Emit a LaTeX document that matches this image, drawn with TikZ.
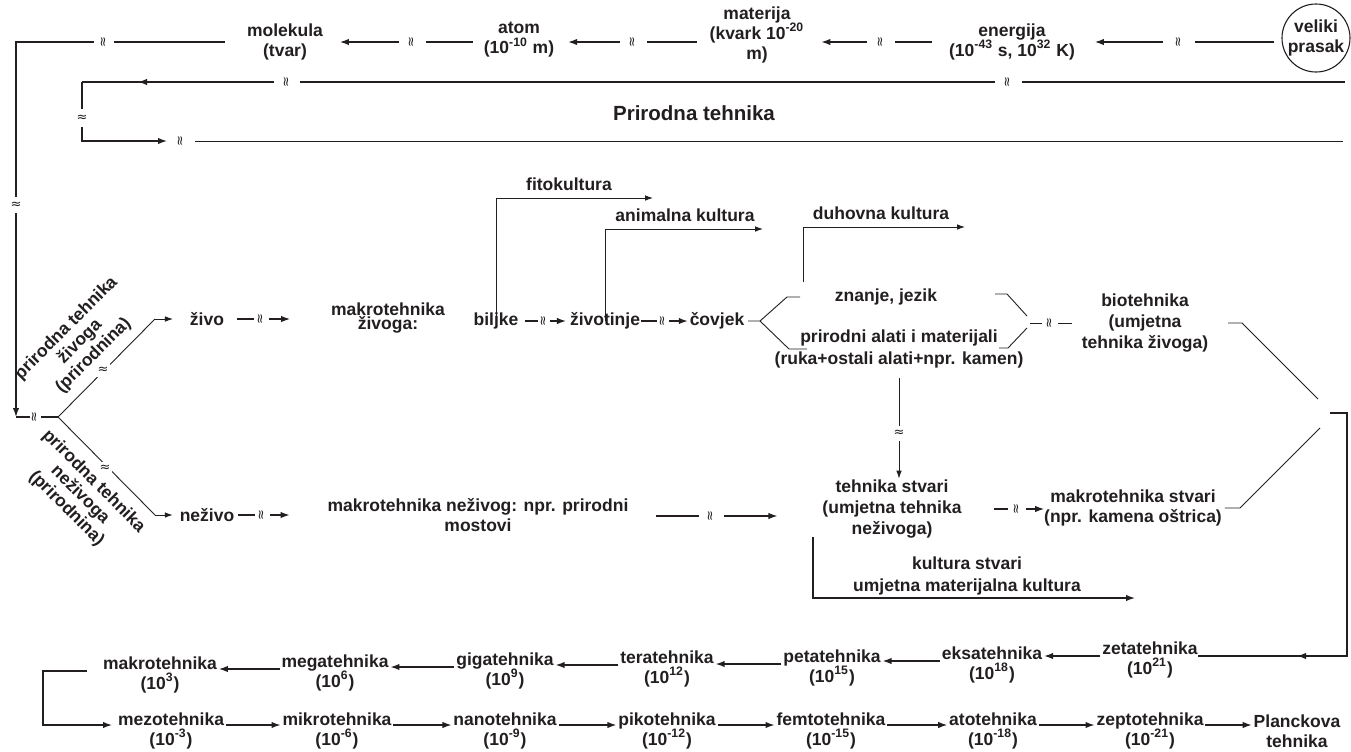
\documentclass[tikz,border=0pt]{standalone}
\usepackage{fontspec}
\setmainfont{Liberation Sans}
\newfontfamily\dvfam{DejaVu Sans}
\usetikzlibrary{arrows.meta,calc}
\definecolor{ink}{RGB}{35,31,32}
\newcommand\lbf{\fontsize{8.75pt}{10pt}\selectfont\bfseries}
\newcommand\lbfw{\fontsize{8.75pt}{10.6pt}\selectfont\bfseries}
\newcommand\lbft{\fontsize{8.75pt}{7pt}\selectfont\bfseries}
\newcommand\lbfr{\fontsize{8.75pt}{9.6pt}\selectfont\bfseries}
\newcommand\lbfb{\fontsize{8.75pt}{11pt}\selectfont\bfseries}
\newcommand\wvf{\dvfam\fontsize{6.5pt}{6.5pt}\selectfont}
\newcommand\prfont{\fontsize{10.25pt}{12pt}\selectfont\bfseries}
\begin{document}
\begin{tikzpicture}[x=0.5pt,y=-0.5pt,
  lbl/.style={font=\lbf, align=center, inner sep=0pt, outer sep=0pt, text=ink},
  cline/.style={draw=ink, line width=0.65pt},
  thn/.style={draw=ink, line width=0.45pt},
  arr/.style={cline, -{Latex[length=4.5pt,width=3.2pt]}},
  tarr/.style={thn, -{Latex[length=4pt,width=2.8pt]}},
  wv/.style={fill=white, inner sep=0pt, minimum width=4pt, minimum height=#1, font=\wvf, text=ink, rotate=90},
  wv/.default=13pt,
  wvv/.style={fill=white, inner sep=0pt, minimum width=4pt, minimum height=#1, font=\wvf, text=ink},
  wvv/.default=8pt,
  wvd/.style={fill=white, inner sep=0pt, minimum size=6.5pt, font=\wvf, text=ink}
]
\fill[white] (0,0) rectangle (1351,751);
\useasboundingbox (0,0) rectangle (1351,751);

\coordinate (r42) at (0,42);
\coordinate (r516) at (0,516);

% ---------- top row ----------
\node[lbl, draw=ink, line width=0.55pt, circle, minimum size=34pt] (prasak) at (1316,38) {veliki\\prasak};
\node[lbl] (energija) at (1012,42) {energija\\(10\textsuperscript{-43} s, 10\textsuperscript{32} K)};
\node[lbl] (materija) at (757,35) {materija\\(kvark 10\textsuperscript{-20}\\m)};
\node[lbl] (atom) at (519,40) {atom\\(10\textsuperscript{-10} m)};
\node[lbl] (molekula) at (285,42) {molekula\\(tvar)};

\draw[arr, shorten <=4pt, shorten >=10pt] ([yshift=-2pt]prasak.west) -- (energija.east);
\node[wv=16pt] at (1179,42) {≈};
\draw[arr, shorten <=8.5pt, shorten >=8.5pt] (energija.west) -- (materija.east |- r42);
\node[wv=14pt] at (881,42) {≈};
\draw[arr, shorten <=6.5pt, shorten >=7pt] (materija.west |- r42) -- (atom.east |- r42);
\node[wv=13.5pt] at (633,42) {≈};
\draw[arr, shorten <=5.5pt, shorten >=8.5pt] (atom.west |- r42) -- (molekula.east);
\node[wv=13.5pt] at (412,42) {≈};

\coordinate (L1) at (16,42);
\coordinate (L2) at (16,417);
\draw[arr, shorten <=11pt] (molekula.west) -- (L1) -- (L2);
\node[wv=10pt] at (104,42) {≈};
\node[wvv=8pt] at (16,205) {≈};

\coordinate (F0) at (58,417);
\draw[cline] (L2) -- (F0);
\node[wv=5.5pt] at (35,417) {≈};

% ---------- Prirodna tehnika band ----------
\coordinate (T0) at (1345,82);
\coordinate (T1) at (82,82);
\coordinate (T2) at (82,141);
\coordinate (Tm) at (138,82);
\coordinate (T3) at (167,141);
\coordinate (T4) at (195,141);
\coordinate (T5) at (1343,141);
\draw[cline] (T0) -- (T1);
\draw[arr] (T0) -- (Tm);
\draw[arr] (T1) -- (T2) -- (T3);
\draw[thn] (T4) -- (T5);
\node[wv=13pt] at (287,82) {≈};
\node[wv=13.5pt] at (1008,82) {≈};
\node[wvv=9pt] at (82,118) {≈};
\node[wvv=4pt, rotate=90] at (181,141) {≈};
\node[lbl, font=\prfont] (prirodna) at (694,113) {Prirodna tehnika};

% ---------- left fork ----------
\node[lbl] (zivo) at (207,319) {živo};
\node[lbl] (nezivo) at (207,515) {neživo};
\coordinate (U1) at (155,319);
\coordinate (D1) at (155,515);
\draw[thn] (F0) -- (U1);
\draw[tarr, shorten >=8.5pt] (U1) -- (zivo.west);
\draw[thn] (F0) -- (D1);
\draw[tarr, shorten >=3.5pt] (D1) -- (nezivo.west);
\node[wvd] at (103,370) {≈};
\node[wvd] at (105,468) {≈};

\node[lbl, font=\lbfr, rotate=45] (lblzivo) at (80,342) {prirodna tehnika\\živoga\\(prirodnina)};
\node[lbl, font=\lbfr, rotate=-45] (lblnezivo) at (80,495) {prirodna tehnika\\neživoga\\(prirodnina)};

% ---------- living branch ----------
\node[lbl, font=\lbft] (makrozivo) at (388,318) {makrotehnika\\živoga:};
\draw[arr, shorten <=6.5pt, shorten >=20.5pt] (zivo.east) -- (zivo.east -| makrozivo.west);
\node[wv=7.5pt] at (261,319) {≈};

\node[lbl] (biljke) at (496,321) {biljke};
\node[lbl] (zivotinje) at (605,321) {životinje};
\node[lbl] (covjek) at (717,321) {čovjek};
\draw[arr, shorten <=3.5pt, shorten >=2pt] (biljke.east) -- (zivotinje.west);
\node[wv=6pt] at (544,321) {≈};
\draw[arr, shorten <=0.5pt, shorten >=1pt] (zivotinje.east) -- (covjek.west);
\node[wv=6pt] at (663,321) {≈};

\node[lbl] (fito) at (569,184) {fitokultura};
\node[lbl] (animal) at (685,215) {animalna kultura};
\node[lbl] (duhovna) at (881,213) {duhovna kultura};
\coordinate (fitoE) at (653,198);
\coordinate (animE) at (763,229);
\coordinate (duhS) at (803,282);
\coordinate (duhE) at (965,227);
\draw[tarr, shorten <=-4pt] (biljke.north) |- (fitoE);
\draw[tarr, shorten <=-4pt] (zivotinje.north) |- (animE);
\draw[tarr] (duhS) |- (duhE);

\coordinate (F2) at (760,321);
\coordinate (Fa) at (787,297);
\coordinate (Fb) at (800,297);
\coordinate (Fc) at (789,349);
\coordinate (Fd) at (807,349);
\draw[thn, shorten <=2pt] (covjek.east) -- (F2) -- (Fa) -- (Fb);
\draw[thn] (F2) -- (Fc) -- (Fd);

\node[lbl] (znanje) at (886,297) {znanje, jezik};
\node[lbl, font=\lbfb] (prirodni) at (899,349) {prirodni alati i materijali\\(ruka+ostali alati+npr. kamen)};

\coordinate (Ga) at (995,294);
\coordinate (Gb) at (1007,294);
\coordinate (Gc) at (1027,316);
\coordinate (Gd) at (999,348);
\coordinate (Ge) at (1008,348);
\coordinate (Gf) at (1027,328);
\coordinate (Gm) at (1030,323);
\draw[thn] (Ga) -- (Gb) -- (Gc);
\draw[thn] (Gd) -- (Ge) -- (Gf);
\node[lbl, font=\lbfw] (bio) at (1145,323) {biotehnika\\(umjetna\\tehnika živoga)};
\draw[thn, shorten >=5pt] (Gm) -- (bio.west);
\node[wv=8pt] at (1050,323) {≈};

% ---------- non-living branch ----------
\node[lbl] (makroneziv) at (478,515) {makrotehnika neživog: npr. prirodni\\mostovi};
\draw[arr, shorten <=2pt, shorten >=19pt] (nezivo.east) -- (nezivo.east -| makroneziv.west);
\node[wv=7.5pt] at (262,515) {≈};

\node[lbl, font=\lbfw] (tstvari) at (892,509) {tehnika stvari\\(umjetna tehnika\\neživoga)};
\draw[tarr, shorten <=5pt, shorten >=0.5pt] (prirodni.south) -- (prirodni.south |- tstvari.north);
\node[wvv=7.5pt] at (899,433) {≈};

\draw[arr, shorten <=14pt, shorten >=22.5pt] (makroneziv.east |- r516) -- (tstvari.west |- r516);
\node[wv=12.5pt] at (711,516) {≈};

\node[lbl] (makrostvari) at (1133,508) {makrotehnika stvari\\(npr. kamena oštrica)};
\draw[arr, shorten <=16pt] (tstvari.east) -- (tstvari.east -| makrostvari.west);
\node[wv=9pt] at (1017,509) {≈};

\node[lbl, font=\lbfb] (kultstvari) at (967,576) {kultura stvari\\umjetna materijalna kultura};
\coordinate (K1) at (813,537);
\coordinate (K2) at (1135,598);
\draw[arr] (K1) |- (K2);

% ---------- right chevron ----------
\coordinate (H1) at (1242,323);
\coordinate (H2) at (1318,399);
\coordinate (H3) at (1240,508);
\coordinate (H4) at (1320,428);
\draw[thn, shorten <=10pt] (bio.east) -- (H1) -- (H2);
\draw[thn, shorten <=1.5pt] (makrostvari.east) -- (H3) -- (H4);
\coordinate (Q1) at (1330,413);
\coordinate (Q2) at (1347,413);
\coordinate (Q3) at (1347,656);
\coordinate (Qm) at (1297,656);

% ---------- bottom rows ----------
\node[lbl] (makro) at (160,675) {makrotehnika\\(10\textsuperscript{3})};
\node[lbl] (mega) at (335,673) {megatehnika\\(10\textsuperscript{6})};
\node[lbl] (giga) at (505,671) {gigatehnika\\(10\textsuperscript{9})};
\node[lbl] (tera) at (667,669) {teratehnika\\(10\textsuperscript{12})};
\node[lbl] (peta) at (832,668) {petatehnika\\(10\textsuperscript{15})};
\node[lbl] (eksa) at (992,665) {eksatehnika\\(10\textsuperscript{18})};
\node[lbl] (zeta) at (1150,660) {zetatehnika\\(10\textsuperscript{21})};

\node[lbl] (mezo) at (171,731) {mezotehnika\\(10\textsuperscript{-3})};
\node[lbl] (mikro) at (337,731) {mikrotehnika\\(10\textsuperscript{-6})};
\node[lbl] (nano) at (505,731) {nanotehnika\\(10\textsuperscript{-9})};
\node[lbl] (piko) at (667,731) {pikotehnika\\(10\textsuperscript{-12})};
\node[lbl] (femto) at (831,731) {femtotehnika\\(10\textsuperscript{-15})};
\node[lbl] (ato) at (993,731) {atotehnika\\(10\textsuperscript{-18})};
\node[lbl] (zepto) at (1150,731) {zeptotehnika\\(10\textsuperscript{-21})};
\node[lbl] (planck) at (1297,731) {Planckova\\tehnika};

\draw[cline] (Q1) -- (Q2) -- (Q3) -- (zeta.east |- Q3);
\draw[arr] (Q3) -- (Qm);

\foreach \a/\b in {zeta/eksa, eksa/peta, peta/tera, tera/giga, giga/mega, mega/makro}
  \draw[arr, shorten <=1pt, shorten >=1pt] ([yshift=2pt]\a.west) -- ([yshift=2pt]\a.west -| \b.east);
\foreach \a/\b in {mezo/mikro, mikro/nano, nano/piko, piko/femto, femto/ato, ato/zepto, zepto/planck}
  \draw[arr, shorten <=1pt, shorten >=1pt] ([yshift=3pt]\a.east) -- ([yshift=3pt]\a.east -| \b.west);

\coordinate (Kx) at (43,0);
\draw[arr, shorten <=8pt, shorten >=3pt] ([yshift=2pt]makro.west) -- ([yshift=2pt]makro.west -| Kx) -- ([yshift=3pt]mezo.west -| Kx) -- ([yshift=3pt]mezo.west);
\end{tikzpicture}
\end{document}
